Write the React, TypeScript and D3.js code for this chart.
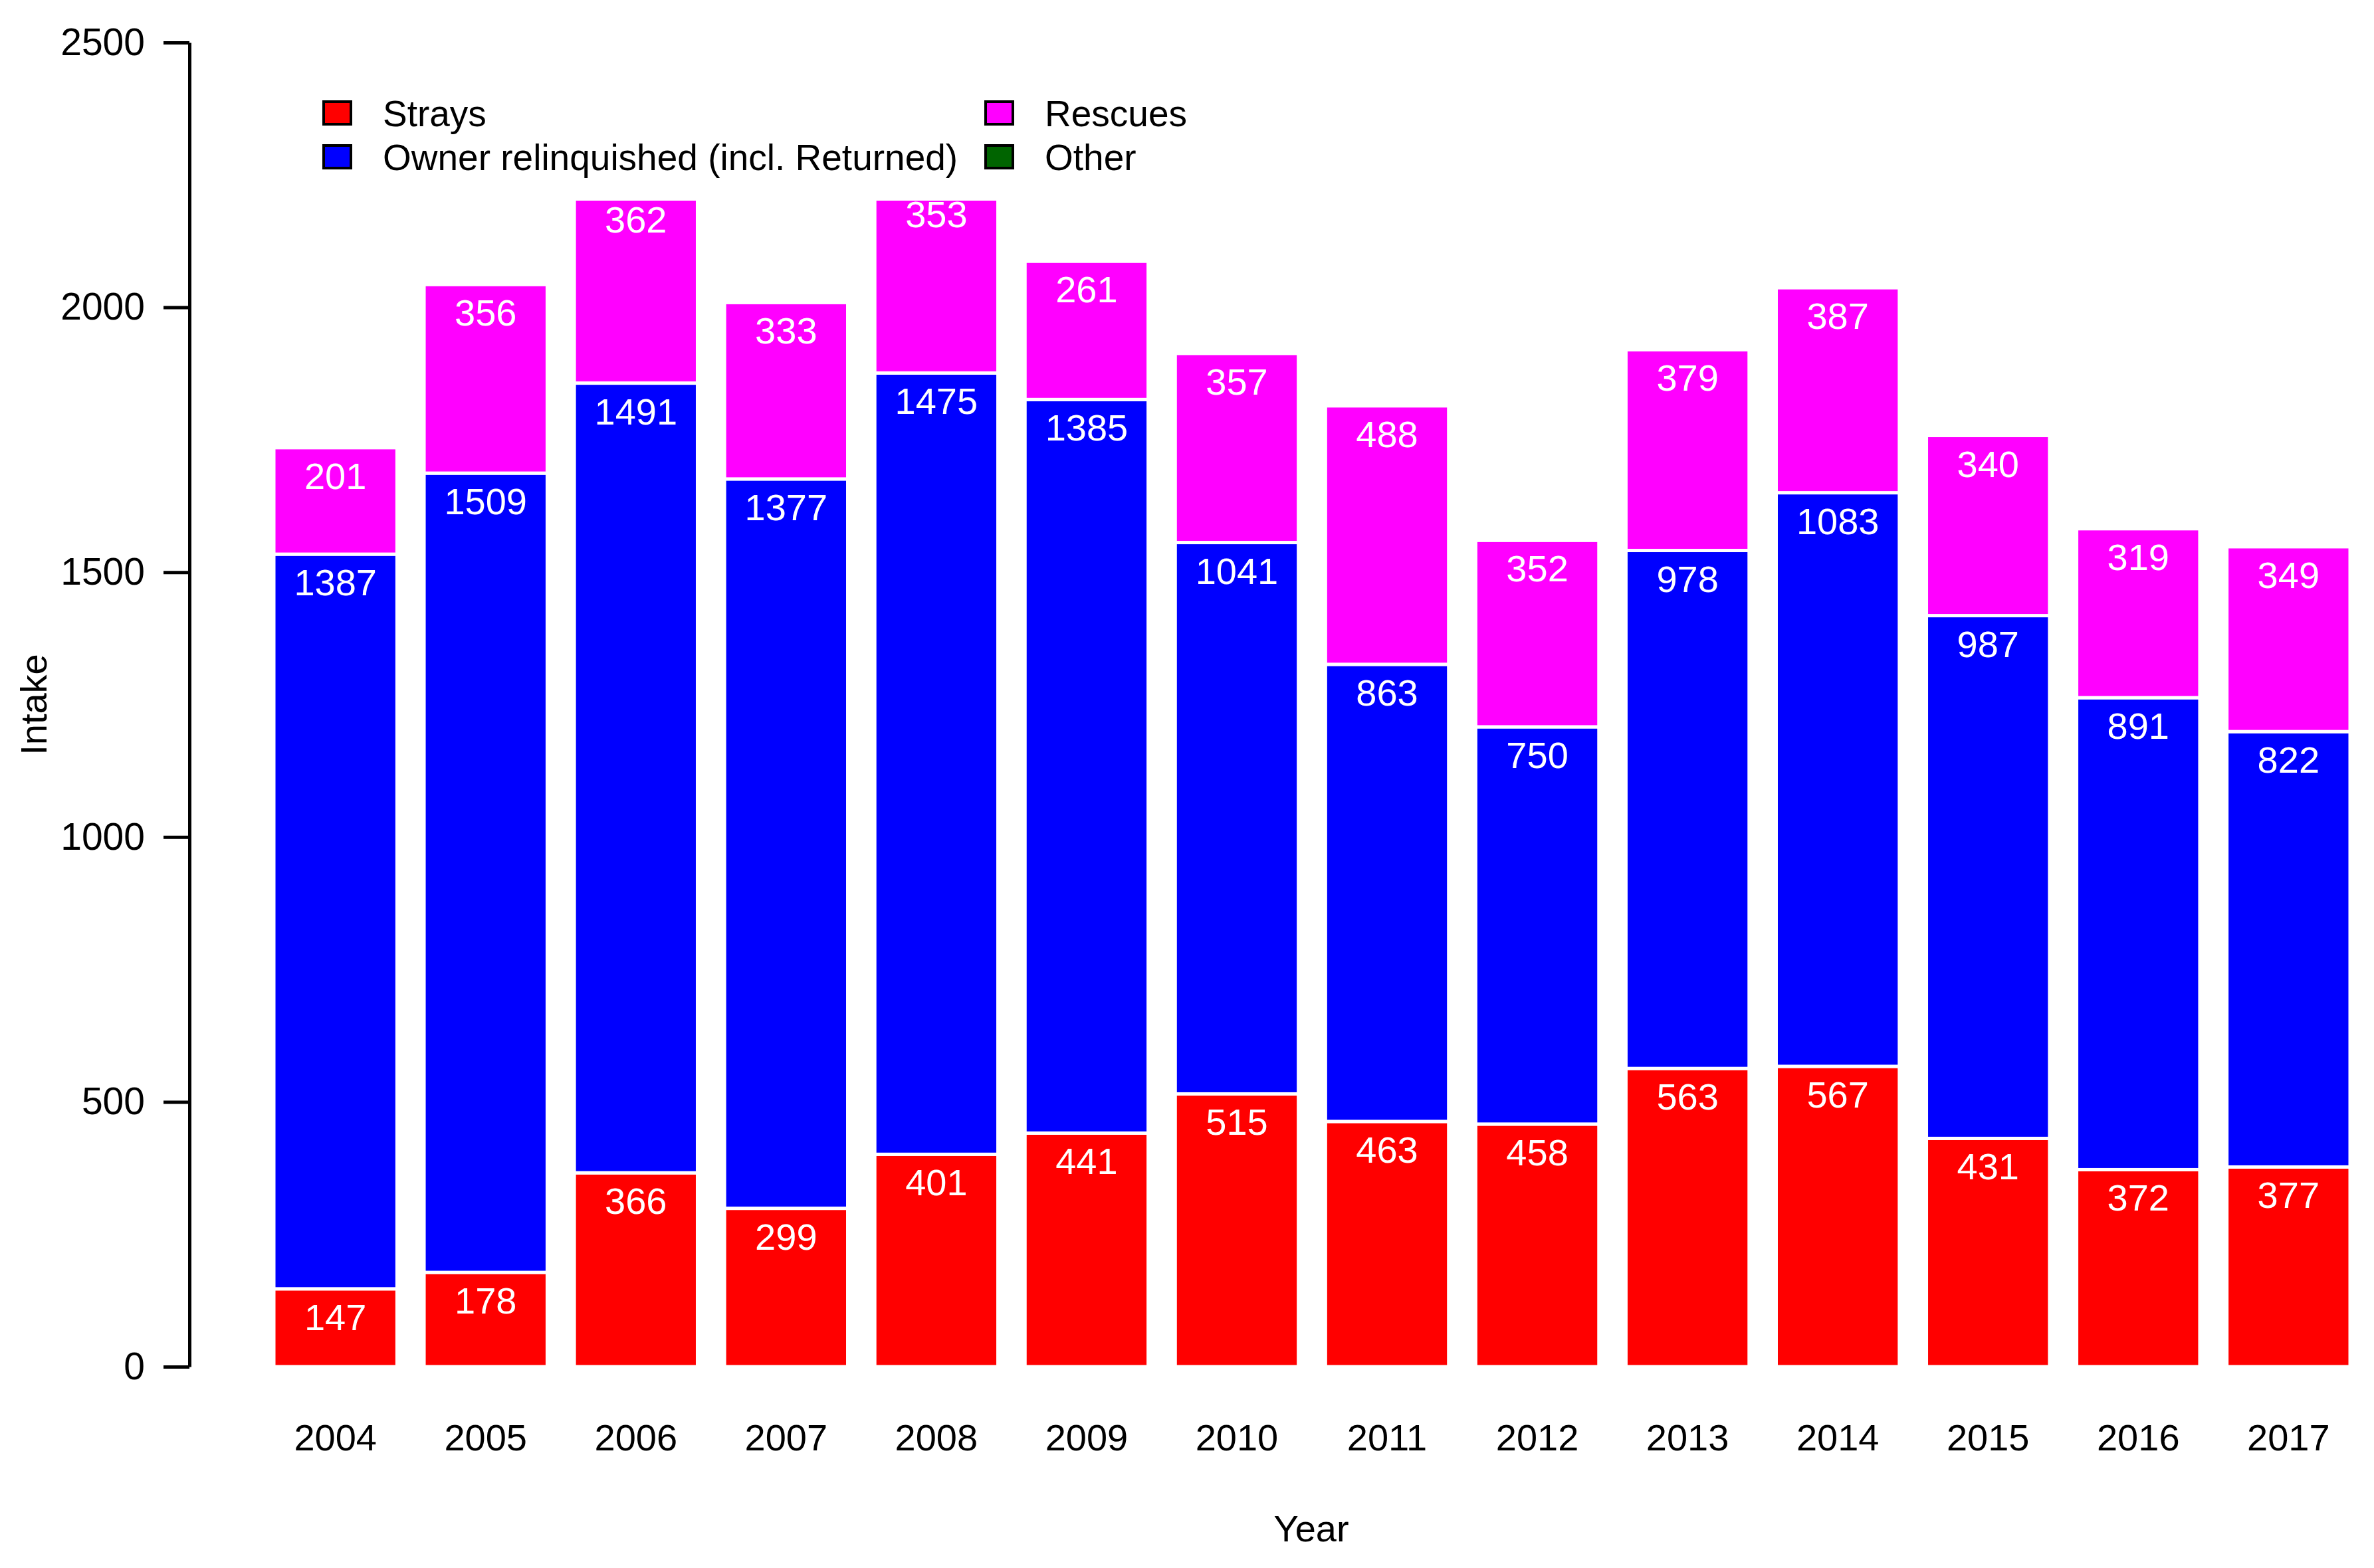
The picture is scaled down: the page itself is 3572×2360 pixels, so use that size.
import * as d3 from "d3";
import React, { useEffect, useRef } from "react";

// intake by year
const years = ["2004", "2005", "2006", "2007", "2008", "2009", "2010", "2011", "2012", "2013", "2014", "2015", "2016", "2017"];
const strays = [147, 178, 366, 299, 401, 441, 515, 463, 458, 563, 567, 431, 372, 377];
const owner = [1387, 1509, 1491, 1377, 1475, 1385, 1041, 863, 750, 978, 1083, 987, 891, 822];
const rescues = [201, 356, 362, 333, 353, 261, 357, 488, 352, 379, 387, 340, 319, 349];
const other = [0, 0, 0, 0, 0, 0, 0, 0, 0, 0, 0, 0, 0, 0];

const seriesNames = ["Strays", "Owner relinquished (incl. Returned)", "Rescues", "Other"];
const seriesColors = ["#ff0000", "#0000ff", "#ff00ff", "#006400"];
const yTicks = [0, 500, 1000, 1500, 2000, 2500];

const W = 3572;
const H = 2360;
const FONT = "'Liberation Sans', Arial, sans-serif";

const App: React.FC = () => {
  const axisRef = useRef<SVGGElement | null>(null);

  const x = d3.scaleBand<string>().domain(years).range([412, 3536]).paddingInner(0.18).paddingOuter(0);
  const y = d3.scaleLinear().domain([0, 2500]).range([2057, 64]);

  const table = years.map((yr, i) => ({ year: yr, strays: strays[i], owner: owner[i], rescues: rescues[i], other: other[i] }));
  const keys = ["strays", "owner", "rescues", "other"];
  const stacked = d3.stack<any>().keys(keys)(table);

  useEffect(() => {
    const g = d3.select(axisRef.current);
    g.selectAll("*").remove();
    g.call(d3.axisLeft(y).tickValues(yTicks).tickSize(39).tickSizeOuter(0).tickPadding(28).tickFormat(d3.format("d")));
    g.select(".domain").attr("stroke", "#000").attr("stroke-width", 5);
    g.selectAll(".tick line").attr("stroke", "#000").attr("stroke-width", 5);
    g.selectAll(".tick text").attr("fill", "#000").style("font-size", "57px").style("font-family", FONT);
  }, []);

  const legendItems = [
    { x: 487, y: 170, i: 0 },
    { x: 487, y: 236, i: 1 },
    { x: 1483, y: 170, i: 2 },
    { x: 1483, y: 236, i: 3 },
  ];

  return (
    <svg width={W} height={H} style={{ position: "absolute", left: 0, top: 0, background: "#fff" }} fontFamily={FONT}>
      {stacked.map((layer, li) => (
        <g key={layer.key} fill={seriesColors[li]}>
          {layer.map((d, i) => {
            const v = d[1] - d[0];
            if (v <= 0) return null;
            return (
              <rect key={i} x={x(years[i])} y={y(d[1])} width={x.bandwidth()} height={y(d[0]) - y(d[1])}
                stroke="#fff" strokeWidth={5} />
            );
          })}
        </g>
      ))}
      {stacked.map((layer, li) => (
        <g key={"l" + layer.key} fill="#fff" fontSize={56} textAnchor="middle">
          {layer.map((d, i) => {
            const v = d[1] - d[0];
            if (v <= 0) return null;
            return (
              <text key={i} x={(x(years[i]) as number) + x.bandwidth() / 2} y={y(d[1]) + 62}>{v}</text>
            );
          })}
        </g>
      ))}

      {/* legend with white background drawn over the bars */}
      <rect x={445} y={30} width={1400} height={272} fill="#fff" />
      {legendItems.map((it) => (
        <g key={it.i}>
          <rect x={it.x} y={it.y - 17} width={41} height={34} fill={seriesColors[it.i]} stroke="#000" strokeWidth={4} />
          <text x={it.x + 89} y={it.y + 20} fontSize={55} fill="#000">{seriesNames[it.i]}</text>
        </g>
      ))}

      <g ref={axisRef} transform="translate(285,0)" />

      <g fontSize={56} textAnchor="middle" fill="#000">
        {years.map((yr) => (
          <text key={yr} x={(x(yr) as number) + x.bandwidth() / 2} y={2183}>{yr}</text>
        ))}
      </g>
      <text x={1973} y={2320} fontSize={56} textAnchor="middle">Year</text>
      <text transform={`translate(70,${(y(0) + y(2500)) / 2}) rotate(-90)`} fontSize={56} textAnchor="middle">Intake</text>
    </svg>
  );
};

export default App;
